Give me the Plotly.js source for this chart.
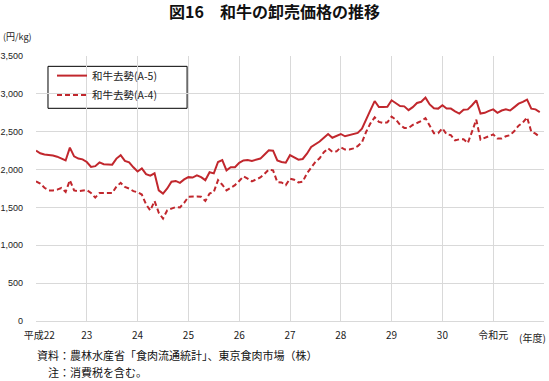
<!DOCTYPE html>
<html>
<head>
<meta charset="utf-8">
<script src="https://cdn.plot.ly/plotly-3.0.1.min.js"></script>
<style>html,body{margin:0;padding:0;background:#fff;}#chart{width:549px;height:381px;}</style>
</head>
<body>
<div id="chart"></div>
<script>
// Fiscal-year tick labels (one gridline per April)
const yearLabels = ["平成22","23","24","25","26","27","28","29","30","令和元"];
const seriesNames = ["和牛去勢(A-5)","和牛去勢(A-4)"];
// Monthly wholesale prices (円/kg), April 平成22 to March 令和元年度
const priceA5 = [
  2250,2215,2200,2195,2185,2170,2150,2120,2290,2175,2145,2135,
  2100,2035,2045,2095,2070,2070,2065,2145,2190,2115,2095,2030,
  1975,2015,1940,1920,1950,1725,1683,1750,1840,1850,1825,1870,
  1900,1895,1925,1900,1860,1965,1950,2100,2125,1990,2030,2030,
  2090,2120,2125,2115,2130,2145,2200,2255,2250,2120,2100,2090,
  2190,2165,2130,2140,2210,2300,2335,2370,2420,2470,2420,2440,
  2470,2440,2455,2460,2485,2540,2670,2785,2905,2825,2825,2830,
  2915,2880,2840,2835,2785,2825,2880,2895,2950,2860,2810,2805,
  2850,2805,2805,2770,2740,2790,2795,2850,2915,2740,2750,2775,
  2795,2750,2780,2795,2780,2825,2870,2895,2925,2805,2795,2760
];
const priceA4 = [
  1845,1815,1760,1725,1725,1735,1757,1705,1860,1725,1715,1725,
  1730,1690,1630,1690,1695,1692,1690,1775,1825,1770,1750,1715,
  1700,1670,1540,1460,1585,1430,1353,1462,1485,1505,1500,1560,
  1640,1645,1645,1640,1585,1683,1705,1860,1800,1725,1765,1795,
  1850,1910,1880,1845,1870,1895,1945,2000,1990,1835,1830,1795,
  1880,1865,1830,1840,1950,2030,2100,2150,2230,2280,2235,2240,
  2295,2265,2265,2280,2310,2360,2500,2610,2690,2630,2615,2625,
  2700,2660,2590,2550,2550,2590,2615,2640,2680,2570,2480,2480,
  2545,2465,2455,2385,2400,2400,2350,2500,2660,2395,2420,2440,
  2465,2410,2410,2440,2455,2510,2580,2620,2690,2500,2475,2430
];

const monthIdx = priceA5.map((_, i) => i);
const tickVals = yearLabels.map((_, i) => i * 12);
const nb = "\u00a0";
const tickText = yearLabels.map((t, i) => i === 0 ? nb + nb + nb + t : t);
const red = "#c1272d";
const jp = "Noto Sans CJK JP, Noto Sans, sans-serif";
const legFont = {family: jp, size: 10.5, color: "#222"};

const traces = [
  {x: monthIdx, y: priceA5, name: seriesNames[0], type: "scatter", mode: "lines",
   line: {color: red, width: 2}, legend: "legend"},
  {x: monthIdx, y: priceA4, name: seriesNames[1], type: "scatter", mode: "lines",
   line: {color: red, width: 2, dash: "5px,3px"}, legend: "legend2"}
];

const layout = {
  width: 549, height: 381,
  margin: {l: 36, r: 5, t: 56, b: 60},
  paper_bgcolor: "#fff", plot_bgcolor: "#fff",
  font: {family: jp, size: 10, color: "#222"},
  title: {text: "<b>図16　和牛の卸売価格の推移</b>", x: 0.5, xanchor: "center",
          y: 0.968, yanchor: "middle", yref: "container",
          font: {family: jp, size: 16, color: "#111"}},
  xaxis: {range: [0, 120], tickvals: tickVals, ticktext: tickText,
          showgrid: true, gridcolor: "#d9d9d9", gridwidth: 1, zeroline: false,
          showline: false, ticks: "", ticklabelstandoff: 7,
          tickfont: {family: jp, size: 10, color: "#222"}, fixedrange: true},
  yaxis: {range: [0, 3500], dtick: 500, tickformat: ",d",
          showgrid: true, gridcolor: "#d9d9d9", gridwidth: 1,
          zeroline: true, zerolinecolor: "#d9d9d9", zerolinewidth: 1,
          showline: false, ticks: "", ticklabelstandoff: 12,
          tickfont: {family: "Liberation Sans, Arial, sans-serif", size: 9, color: "#222"}, fixedrange: true},
  showlegend: true,
  legend: {x: 0.0315, y: 0.926, xanchor: "left", yanchor: "middle",
           bgcolor: "rgba(0,0,0,0)", borderwidth: 0, font: legFont},
  legend2: {x: 0.0315, y: 0.853, xanchor: "left", yanchor: "middle",
           bgcolor: "rgba(0,0,0,0)", borderwidth: 0, font: legFont},
  shapes: [
    {type: "rect", xref: "paper", yref: "paper", x0: 0.0236, x1: 0.2974, y0: 0.8026, y1: 0.961,
     line: {color: "#000", width: 1}, fillcolor: "#fff", layer: "below"}
  ],
  annotations: [
    {text: "(円/kg)", xref: "paper", yref: "paper", x: -0.068, y: 1.072,
     xanchor: "left", yanchor: "middle", showarrow: false,
     font: {family: jp, size: 9, color: "#222"}},
    {text: "(年度)", xref: "paper", yref: "paper", x: 1.008, y: -0.062,
     xanchor: "right", yanchor: "middle", showarrow: false,
     font: {family: jp, size: 10, color: "#222"}},
    {text: "資料：農林水産省「食肉流通統計」、東京食肉市場（株）", xref: "paper", yref: "paper",
     x: -0.002, y: -0.129, xanchor: "left", yanchor: "middle", showarrow: false,
     font: {family: jp, size: 11, color: "#111"}},
    {text: "注：消費税を含む。", xref: "paper", yref: "paper",
     x: 0.02, y: -0.193, xanchor: "left", yanchor: "middle", showarrow: false,
     font: {family: jp, size: 11, color: "#111"}}
  ]
};

Plotly.newPlot("chart", traces, layout, {staticPlot: true, displayModeBar: false});
</script>
</body>
</html>
